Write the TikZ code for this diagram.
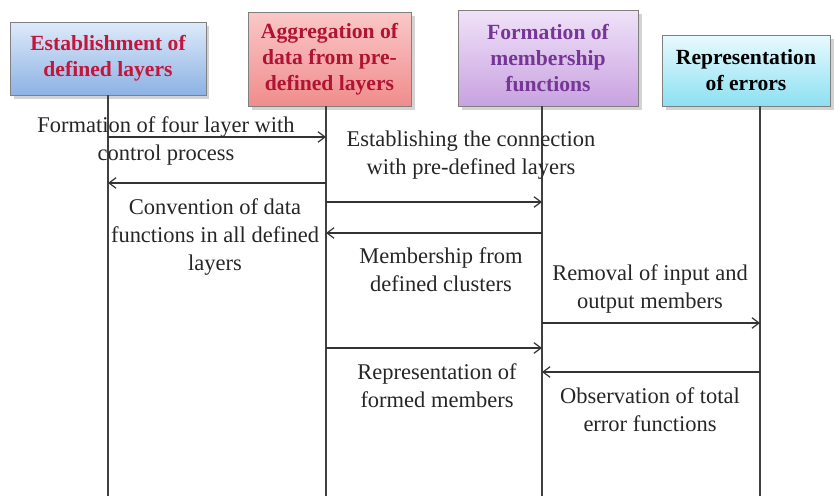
\documentclass[tikz,border=0pt]{standalone}
\usepackage{fontspec}
\setmainfont{Liberation Serif}
\usetikzlibrary{arrows.meta,shadows}
\definecolor{estabtop}{RGB}{222,234,250}
\definecolor{estabbot}{RGB}{140,178,228}
\definecolor{estabtext}{RGB}{196,22,58}
\definecolor{aggrtop}{RGB}{250,200,200}
\definecolor{aggrbot}{RGB}{240,140,140}
\definecolor{membtop}{RGB}{240,226,248}
\definecolor{membbot}{RGB}{200,162,224}
\definecolor{membtext}{RGB}{118,54,150}
\definecolor{errtop}{RGB}{232,250,254}
\definecolor{errbot}{RGB}{140,224,242}
\tikzset{
  lane head/.style={
    draw=black!50,
    thin,
    align=center,
    inner sep=2pt,
    font=\bfseries\fontsize{12.3}{14.7}\selectfont,
    drop shadow={opacity=0.35, shadow xshift=2pt, shadow yshift=-2pt}
  },
  lifeline/.style={
    draw=black!75,
    line width=0.7pt
  },
  msg/.style={
    draw=black!80,
    line width=0.7pt,
    -{Straight Barb[length=4pt,width=6pt]}
  },
  msg label/.style={
    align=center,
    inner sep=1pt,
    font=\fontsize{12.8}{15.9}\selectfont,
    text=black!85
  }
}
\begin{document}
\begin{tikzpicture}[x=0.02cm,y=-0.02cm]
  \useasboundingbox (0,0) rectangle (835,496);

  % lane headers
  \node[lane head, top color=estabtop, bottom color=estabbot, text=estabtext,
        minimum width=3.92cm, minimum height=1.46cm] (establish) at (108,58.5)
        {Establishment of\\defined layers};
  \node[lane head, top color=aggrtop, bottom color=aggrbot, text=estabtext!90!black,
        minimum width=3.26cm, minimum height=1.88cm] (aggregate) at (329.5,59)
        {Aggregation of\\data from pre-\\defined layers};
  \node[lane head, top color=membtop, bottom color=membbot, text=membtext,
        minimum width=3.6cm, minimum height=1.92cm] (membership) at (548,58)
        {Formation of\\membership\\functions};
  \node[lane head, top color=errtop, bottom color=errbot, text=black,
        minimum width=3.36cm, minimum height=1.42cm] (errors) at (746,70.5)
        {Representation\\of errors};

  % lifelines
  \foreach \b/\x in {establish/108, aggregate/326, membership/542, errors/760} {
    \coordinate (\b-end) at (\x,496);
    \draw[lifeline] (\b.south -| \b-end) -- (\b-end);
  }

  % messages
  \foreach \a/\b/\y in {establish/aggregate/137, aggregate/establish/183,
                        aggregate/membership/202, membership/aggregate/233,
                        membership/errors/323, aggregate/membership/348,
                        errors/membership/372} {
    \draw[msg] (\a-end |- 0,\y) -- (\b-end |- 0,\y);
  }

  % message labels
  \node[msg label] (m1) at (166,141) {Formation of four layer with\\control process};
  \node[msg label] (m2) at (215,237) {Convention of data\\functions in all defined\\layers};
  \node[msg label] (m3) at (471,155.5) {Establishing the connection\\with pre-defined layers};
  \node[msg label] (m4) at (441,270) {Membership from\\defined clusters};
  \node[msg label] (m5) at (650,289) {Removal of input and\\output members};
  \node[msg label] (m6) at (437,386) {Representation of\\formed members};
  \node[msg label] (m7) at (650,409.5) {Observation of total\\error functions};
\end{tikzpicture}
\end{document}
